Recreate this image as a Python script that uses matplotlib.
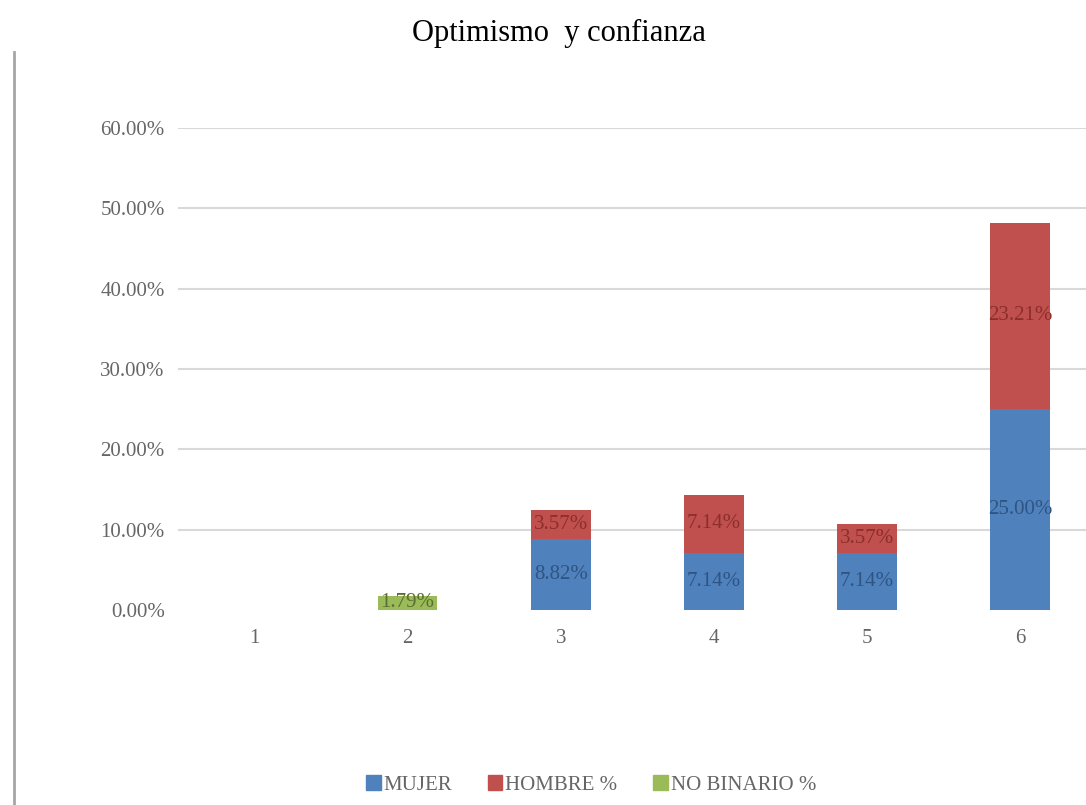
import matplotlib
matplotlib.use("Agg")
import matplotlib.pyplot as plt
from matplotlib.lines import Line2D
from matplotlib.patches import Patch
import numpy as np

categories = ["1", "2", "3", "4", "5", "6"]
mujer = [0.00, 0.00, 8.82, 7.14, 7.14, 25.00]
hombre = [0.00, 0.00, 3.57, 7.14, 3.57, 23.21]
no_binario = [0.00, 1.79, 0.00, 0.00, 0.00, 0.00]
series_names = ["MUJER", "HOMBRE %", "NO BINARIO %"]
y_ticks = [0, 10, 20, 30, 40, 50, 60]

colors = ["#4F81BD", "#C0504D", "#9BBB59"]
label_colors = ["#2F5482", "#8C2E2B", "#5A6E33"]

plt.rcParams["font.family"] = ["Liberation Serif", "DejaVu Serif"]

fig = plt.figure(figsize=(10.86, 8.05), dpi=100)
ax = fig.add_axes([178 / 1086, 1 - 610 / 805, (1096.5 - 178) / 1086, (610 - 128) / 805])

x = np.arange(1, len(categories) + 1)
width = 0.39
bottom = np.zeros(len(categories))
for name, vals, c, lc in zip(series_names, [mujer, hombre, no_binario], colors, label_colors):
    vals = np.array(vals)
    ax.bar(x, vals, width, bottom=bottom, color=c, zorder=3)
    for xi, b, v in zip(x, bottom, vals):
        if v > 0:
            ax.text(xi, b + v / 2, f"{v:.2f}%", ha="center", va="center",
                    fontsize=15, color=lc, zorder=4)
    bottom = bottom + vals

ax.set_xlim(0.5, 6.5)
ax.set_ylim(0, 60)
ax.set_yticks(y_ticks)
ax.set_yticklabels([f"{t:.2f}%" for t in y_ticks])
ax.set_xticks(x)
ax.set_xticklabels(categories)
ax.tick_params(axis="both", length=0, labelsize=15, labelcolor="#666666")
ax.tick_params(axis="y", pad=9.5)
ax.tick_params(axis="x", pad=14)
ax.grid(axis="y", color="#D9D9D9", linewidth=1.5, zorder=0)
ax.yaxis.get_gridlines()[0].set_visible(False)
for s in ax.spines.values():
    s.set_visible(False)

fig.text(559 / 1086, 1 - 33 / 805, "Optimismo  y confianza", ha="center", va="center",
         fontsize=22, color="#000000")

# frame edge on the left side
fig.add_artist(Line2D([14 / 1086, 14 / 1086], [0, 1 - 52 / 805],
                      transform=fig.transFigure, color="#A6A6A6", linewidth=2))

handles = [Patch(facecolor=c, edgecolor=c) for c in colors]
fig.legend(handles, series_names, loc="center", bbox_to_anchor=(591 / 1086, 1 - 785 / 805),
           ncol=3, frameon=False, fontsize=15, handlelength=0.7, handleheight=0.7,
           handletextpad=0.15, columnspacing=1.7, labelcolor="#666666")

fig.savefig("out.png", dpi=100)
